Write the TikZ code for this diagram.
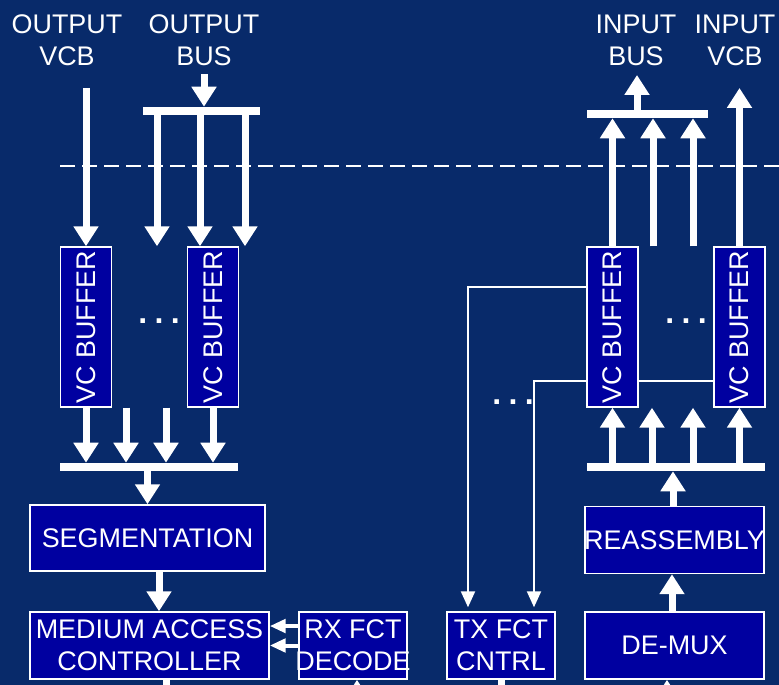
\documentclass[tikz,border=0pt]{standalone}
\usepackage{fontspec}
\setmainfont{Liberation Sans}
\usepackage{xcolor}
\usepackage{tikz}
\usetikzlibrary{arrows.meta}

\definecolor{navybg}{RGB}{8,42,106}
\definecolor{boxblue}{RGB}{0,0,160}

\begin{document}
\begin{tikzpicture}[
                x=0.75pt, y=-0.75pt,
                font=\fontsize{20.2}{24}\selectfont,
                text=white,
                block/.style={rectangle, draw=white, line width=1.1pt, fill=boxblue,
                        align=center, inner sep=0pt},
                vcbuf/.style={block, minimum width=38.25pt, minimum height=120pt},
                widebox/.style={block, minimum width=179.25pt, minimum height=50.25pt},
                smallbox/.style={block, minimum width=81pt, minimum height=50.25pt},
                midbox/.style={block, minimum width=134.25pt, minimum height=50.25pt},
                lbl/.style={align=center, inner sep=0pt},
                dots/.style={anchor=base, inner sep=0pt, font=\fontsize{24}{24}\selectfont\bfseries},
                bar/.style={rectangle, fill=white, inner sep=0pt, minimum height=6pt},
                bigarrow/.style={-{Triangle[width=18pt, length=15pt]}, white, line width=5.25pt},
                shaft/.style={white, line width=5.25pt},
                smallarrow/.style={-{Triangle[width=10pt, length=12pt]}, white, line width=3pt},
                ctrl/.style={white, line width=1.6pt},
                ctrlarrow/.style={ctrl, -{Triangle[width=10.5pt, length=12pt]}, shorten >=3pt},
            ]

            \newcommand{\threedots}{.\hspace{5.5pt}.\hspace{5.5pt}.}

            \useasboundingbox (0,0) rectangle (779,685);
            \clip (0,0) rectangle (779,685);
            \fill[navybg] (0,0) rectangle (779,685);

            % --- boundary -----------------------------------------------------
            \coordinate (dashl) at (60,166);
            \coordinate (dashr) at (779,166);
            \draw[white, line width=1.5pt, dash pattern=on 11pt off 5.5pt] (dashl) -- (dashr);

            % --- labels -------------------------------------------------------
            \node[lbl] (lovcb) at (67,40)  {OUTPUT\\VCB};
            \node[lbl] (lobus) at (204,40) {OUTPUT\\BUS};
            \node[lbl] (libus) at (636,40) {INPUT\\BUS};
            \node[lbl] (livcb) at (735,40) {INPUT\\VCB};

            % --- buffers ------------------------------------------------------
            \node[vcbuf] (obuf1) at (86,327)    {\rotatebox{90}{VC BUFFER}};
            \node[vcbuf] (obuf2) at (213,327)   {\rotatebox{90}{VC BUFFER}};
            \node[vcbuf] (ibuf1) at (612.5,327) {\rotatebox{90}{VC BUFFER}};
            \node[vcbuf] (ibuf2) at (739.5,327) {\rotatebox{90}{VC BUFFER}};

            \node[dots] (odots) at (159,323) {\threedots};
            \node[dots] (idots) at (686,323) {\threedots};
            \node[dots] (cdots) at (513,404) {\threedots};

            % --- bars ---------------------------------------------------------
            \node[bar, minimum width=87.75pt] (obusbar) at (201.5,111) {};
            \node[bar, minimum width=133.5pt] (obufbar) at (149,467)   {};
            \node[bar, minimum width=133.5pt] (ibufbar) at (676,467)   {};
            \node[bar, minimum width=90.75pt] (ibusbar) at (647.5,114) {};

            % --- blocks -------------------------------------------------------
            \node[block, minimum width=176.25pt, minimum height=49.5pt] (seg) at (147.5,538) {SEGMENTATION};
            \node[widebox]  (mac)   at (149.5,645.5) {MEDIUM ACCESS\\CONTROLLER};
            \node[smallbox] (rxfct) at (353,645.5)   {RX FCT\\\makebox[0pt]{DECODE}};
            \node[smallbox] (txfct) at (501,645.5)   {TX FCT\\CNTRL};
            \node[midbox]   (reasm) at (674.5,540)   {\makebox[0pt]{REASSEMBLY}};
            \node[midbox]   (demux) at (674.5,645.5) {DE-MUX};

            % --- helper columns -----------------------------------------------
            \coordinate (ovcbin)  at (86,88);
            \coordinate (obusin)  at (204,74);
            \coordinate (ibusout) at (637,75);
            \coordinate (ivcbout) at (739.5,88);
            \coordinate (oda) at (157,0);
            \coordinate (odb) at (200,0);
            \coordinate (odc) at (245,0);
            \coordinate (oua) at (126,0);
            \coordinate (oub) at (166,0);
            \coordinate (sm)  at (159,0);
            \coordinate (ms)  at (166,0);
            \coordinate (rxin) at (357,720);
            \coordinate (dmin) at (667,720);
            \coordinate (ra)  at (672,0);
            \coordinate (rb)  at (673,0);
            \coordinate (iua) at (652,0);
            \coordinate (iub) at (693,0);
            \coordinate (ida) at (653,0);
            \coordinate (idb) at (693,0);
            \coordinate (ca)  at (468,287);
            \coordinate (cb)  at (534,381);

            % --- output path --------------------------------------------------
            \draw[bigarrow] (ovcbin) -- (ovcbin |- obuf1.north);
            \draw[bigarrow] (obusin) -- (obusin |- obusbar.north);
            \foreach \c in {oda, odb, odc}
                \draw[bigarrow] (obusbar.south -| \c) -- (obuf2.north -| \c);

            \draw[bigarrow] (obuf1.south) -- (obuf1.south |- obufbar.north);
            \foreach \c in {oua, oub}
                \draw[bigarrow] (obuf1.south -| \c) -- (obufbar.north -| \c);
            \draw[bigarrow] (obuf2.south) -- (obuf2.south |- obufbar.north);

            \draw[bigarrow] (obufbar.south -| seg.north) -- (seg.north);
            \draw[bigarrow] (seg.south -| sm) -- (mac.north -| sm);
            \draw[shaft] (mac.south -| ms) -- ++(0,20);

            \draw[smallarrow] ([yshift=14.6pt]rxfct.west) -- ([yshift=14.6pt]mac.east);
            \draw[smallarrow] (rxfct.west) -- (mac.east);
            \draw[bigarrow] (rxin) -- (rxin |- rxfct.south);

            % --- input path ---------------------------------------------------
            \draw[shaft] (txfct.south) -- ++(0,20);
            \draw[bigarrow] (dmin) -- (dmin |- demux.south);
            \draw[bigarrow] (demux.north -| ra) -- (reasm.south -| ra);
            \draw[bigarrow] (reasm.north -| rb) -- (ibufbar.south -| rb);

            \draw[bigarrow] (ibufbar.north -| ibuf1.south) -- (ibuf1.south);
            \foreach \c in {iua, iub}
                \draw[bigarrow] (ibufbar.north -| \c) -- (ibuf1.south -| \c);
            \draw[bigarrow] (ibufbar.north -| ibuf2.south) -- (ibuf2.south);

            \draw[bigarrow] (ibuf1.north) -- (ibuf1.north |- ibusbar.south);
            \foreach \c in {ida, idb}
                \draw[bigarrow] (ibuf1.north -| \c) -- (ibusbar.south -| \c);
            \draw[bigarrow] (ibusbar.north -| ibusout) -- (ibusout);
            \draw[bigarrow] (ibuf2.north) -- (ivcbout);

            % --- flow control -------------------------------------------------
            \draw[ctrlarrow] (ibuf1.west |- ca) -| (txfct.north -| ca);
            \draw[ctrl] (ibuf2.west |- cb) -- (ibuf1.east |- cb);
            \draw[ctrlarrow] (ibuf1.west |- cb) -| (txfct.north -| cb);
        \end{tikzpicture}
\end{document}
